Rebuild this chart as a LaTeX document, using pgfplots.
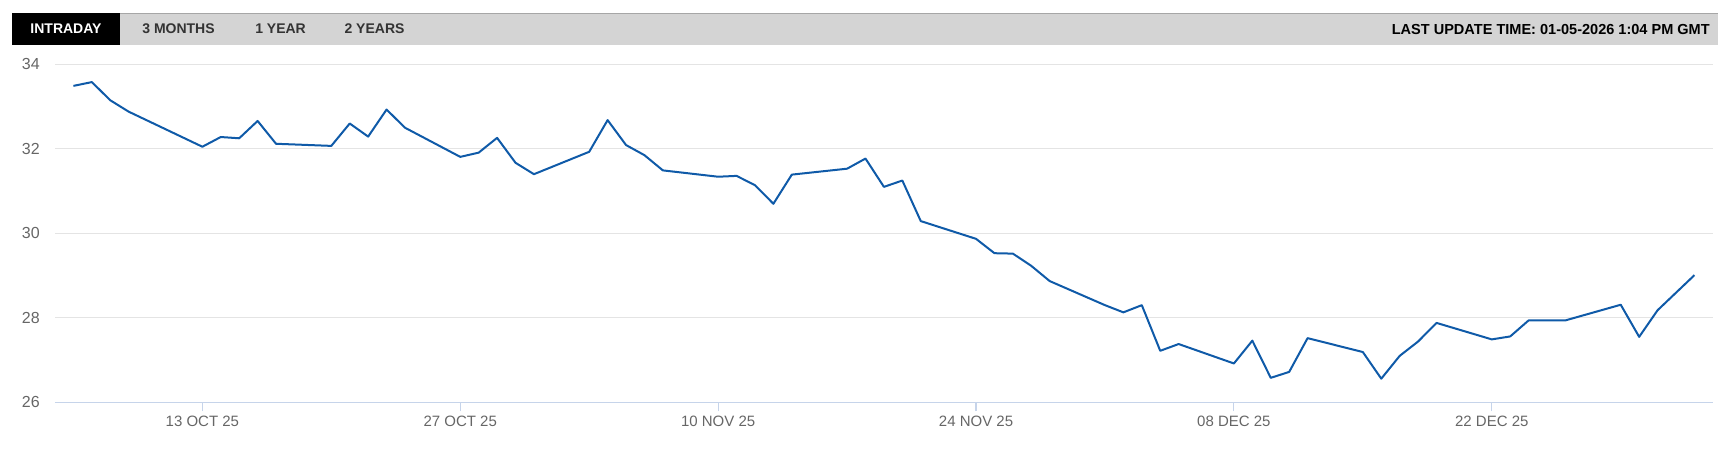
\documentclass[border=0pt]{standalone}
\usepackage{pgfplots}
\pgfplotsset{compat=1.18}
\usepackage{fontspec}
\setmainfont{Liberation Sans}

\definecolor{priceblue}{HTML}{0F5AA8}
\definecolor{gridgray}{HTML}{E4E4E4}
\definecolor{axisblue}{HTML}{C6D4EA}
\definecolor{labelgray}{HTML}{666666}
\definecolor{bargray}{HTML}{D4D4D4}
\definecolor{tabtext}{HTML}{333333}

% price by trading day, day 0 = 13 Oct 2025
\pgfplotstableread{
day price
-7 33.49
-6 33.58
-5 33.15
-4 32.88
0 32.05
1 32.28
2 32.25
3 32.66
4 32.12
7 32.07
8 32.60
9 32.29
10 32.93
11 32.50
14 31.81
15 31.91
16 32.26
17 31.67
18 31.40
21 31.93
22 32.68
23 32.09
24 31.85
25 31.49
28 31.34
29 31.36
30 31.14
31 30.70
32 31.39
35 31.53
36 31.77
37 31.10
38 31.25
39 30.29
42 29.87
43 29.53
44 29.52
45 29.23
46 28.87
49 28.30
50 28.13
51 28.30
52 27.22
53 27.38
56 26.92
57 27.46
58 26.58
59 26.72
60 27.52
63 27.19
64 26.56
65 27.10
66 27.44
67 27.88
70 27.49
71 27.56
72 27.94
74 27.94
77 28.31
78 27.55
79 28.18
81 29.01
}\pricedata

\begin{document}
\begin{tikzpicture}
\path[use as bounding box] (0,0) rectangle (1288.5pt,338.25pt);

% header bar
\fill[bargray] (9pt,304.5pt) rectangle (1288.5pt,328.3pt);
\draw[color=black!35, line width=0.9pt] (9pt,328.3pt) -- (1288.5pt,328.3pt);
\fill[black] (9pt,304.5pt) rectangle (90pt,328.3pt);
\node[white, font=\fontsize{10.5pt}{12pt}\selectfont\bfseries] at (49.5pt,316.4pt) {INTRADAY};
\node[tabtext, font=\fontsize{10.5pt}{12pt}\selectfont\bfseries] at (133.9pt,316.4pt) {3 MONTHS};
\node[tabtext, font=\fontsize{10.5pt}{12pt}\selectfont\bfseries] at (210.4pt,316.4pt) {1 YEAR};
\node[tabtext, font=\fontsize{10.5pt}{12pt}\selectfont\bfseries] at (280.9pt,316.4pt) {2 YEARS};
\node[black, anchor=east, inner sep=0pt, font=\fontsize{10.9pt}{12pt}\selectfont\bfseries] at (1282.5pt,316.4pt) {LAST UPDATE TIME: 01-05-2026 1:04 PM GMT};

\begin{axis}[
    at={(41.25pt,36.5pt)}, anchor=south west,
    scale only axis,
    width=1243.5pt, height=253.5pt,
    xmin=-8, xmax=82, ymin=26, ymax=34,
    enlargelimits=false,
    axis x line*=bottom, axis y line*=left,
    x axis line style={-, draw=axisblue, line width=1pt},
    y axis line style={draw=none},
    ytick={26,28,30,32,34},
    xtick={0,14,28,42,56,70},
    xticklabels={13 OCT 25, 27 OCT 25, 10 NOV 25, 24 NOV 25, 08 DEC 25, 22 DEC 25},
    tick align=outside,
    major tick length=6.75pt,
    xtick style={draw=axisblue, line width=0.8pt},
    ytick style={draw=none},
    ymajorgrids,
    major grid style={draw=gridgray, line width=0.8pt},
    /pgf/number format/assume math mode=true,
    x tick label style={font=\fontsize{11.25pt}{13pt}\selectfont, text=labelgray},
    y tick label style={font=\fontsize{12pt}{14pt}\selectfont, text=labelgray, anchor=east, inner sep=0pt, xshift=-4.5pt},
  ]
  \addplot[priceblue, line width=1.5pt, line join=round, mark=none] table[x=day, y=price] {\pricedata};
\end{axis}
\end{tikzpicture}
\end{document}
